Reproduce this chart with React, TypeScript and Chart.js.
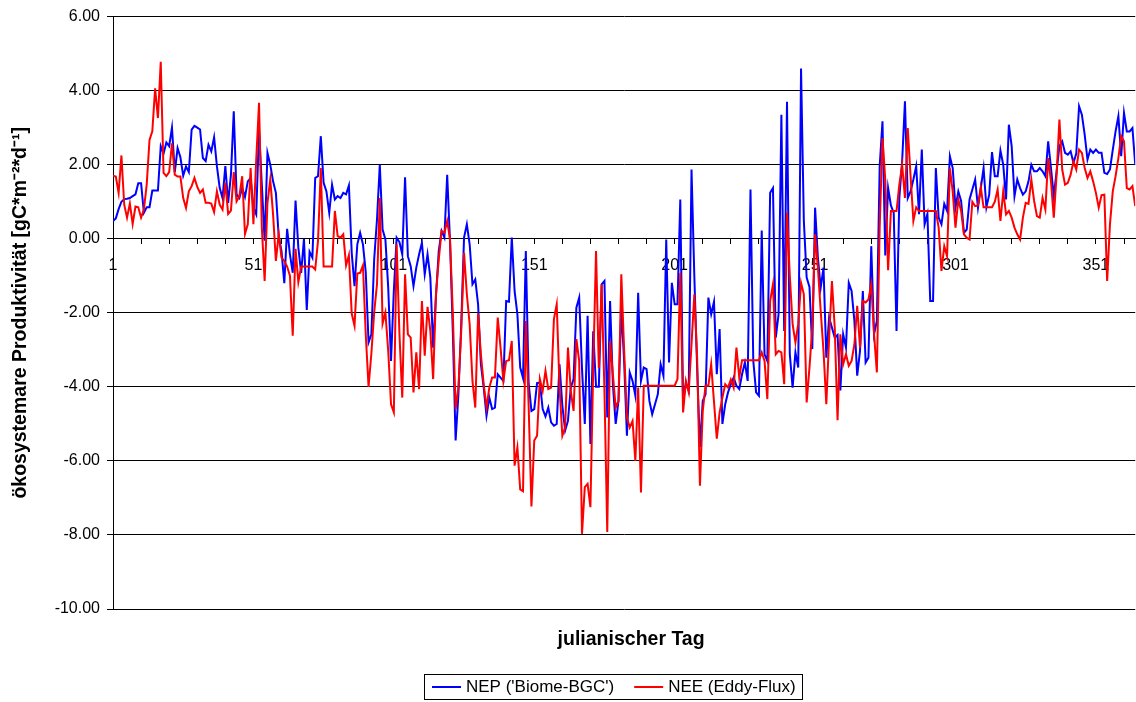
import React, { useEffect, useRef } from 'react';
import { Chart, registerables } from 'chart.js';

Chart.register(...registerables);

// ---------- data ----------
const days: number[] = Array.from({ length: 365 }, (_, i) => i + 1);
const xTickDays = [1, 11, 21, 31, 41, 51, 61, 71, 81, 91, 101, 111, 121, 131, 141, 151, 161, 171, 181, 191, 201, 211, 221, 231, 241, 251, 261, 271, 281, 291, 301, 311, 321, 331, 341, 351, 361];
const xLabelDays = [1, 51, 101, 151, 201, 251, 301, 351];
const yTickValues = [-10, -8, -6, -4, -2, 0, 2, 4, 6];
const seriesNames = ["NEP ('Biome-BGC')", 'NEE (Eddy-Flux)'];
const seriesColors = ['#0000FF', '#FF0000'];
const xTitle = 'julianischer Tag';
const yTitle = 'ökosystemare Produktivität [gC*m⁻²*d⁻¹]';

const nep: number[] = [
  0.48, 0.55, 0.8, 1.0, 1.07, 1.08, 1.1, 1.15, 1.2, 1.5,
  1.5, 0.7, 0.85, 0.85, 1.3, 1.3, 1.3, 2.5, 2.3, 2.6,
  2.5, 3.0, 1.8, 2.45, 2.2, 1.7, 1.95, 1.8, 2.95, 3.05,
  3.0, 2.95, 2.18, 2.1, 2.54, 2.36, 2.74, 1.96, 1.37, 1.1,
  1.96, 0.97, 1.73, 3.44, 1.2, 1.1, 1.37, 1.13, 1.55, 1.64,
  0.84, 0.66, 2.95, 1.46, -0.05, 2.32, 2.0, 1.55, 1.24, 0.07,
  -0.33, -1.2, 0.27, -0.42, -0.92, 1.03, -0.24, -0.92, 0.0, -1.92,
  -0.35, -0.51, 1.64, 1.69, 2.77, 1.51, 1.28, 0.7, 1.46, 1.06,
  1.15, 1.1, 1.24, 1.2, 1.44, -0.38, -1.28, -0.15, 0.16, -0.15,
  -0.9, -2.8, -2.58, -0.56, 0.52, 2.0, 0.25, -0.02, -1.32, -3.3,
  -1.41, 0.03, -0.09, -0.42, 1.66, -0.47, -0.74, -1.28, -0.78, -0.42,
  -0.11, -0.96, -0.42, -1.05, -2.94, -1.55, -0.33, 0.21, 0.03, 1.73,
  -0.06, -2.5, -5.45, -4.2, -2.3, 0.03, 0.39, -0.15, -1.23, -1.1,
  -1.77, -3.39, -4.02, -4.78, -4.29, -4.6, -4.56, -3.66, -3.75, -3.84,
  -1.68, -1.7, 0.03, -1.41, -2.04, -3.48, -3.76, -0.33, -3.9, -4.65,
  -4.6, -3.9, -3.88, -4.6, -4.8, -4.56, -4.96, -5.05, -5.0, -3.39,
  -4.5, -5.18, -4.92, -4.02, -3.79, -1.86, -1.59, -3.5, -5.0, -2.08,
  -5.54, -2.5, -4.0, -4.0, -1.23, -1.14, -4.83, -1.68, -3.93, -5.0,
  -4.38, -1.86, -3.3, -5.32, -3.61, -3.84, -4.24, -1.46, -3.84, -3.48,
  -3.52, -4.38, -4.74, -4.47, -4.2, -3.39, -3.7, -0.02, -3.34, -1.19,
  -1.77, -1.77, 1.06, -4.38, -3.9, -4.1, 1.87, -1.0, -3.5, -5.63,
  -4.38, -4.2, -1.59, -2.04, -1.7, -3.66, -2.44, -5.0, -4.47, -4.15,
  -3.93, -3.75, -3.97, -4.06, -3.66, -3.34, -3.84, 1.33, -3.3, -4.15,
  -4.24, 0.22, -3.12, -3.3, 1.24, 1.37, -2.67, -2.04, 3.35, -2.49,
  3.7, -3.12, -4.02, -3.07, -3.48, 4.6, 0.48, -1.05, -1.3, -2.98,
  0.84, -0.51, -1.32, -0.78, -3.21, -2.13, -2.4, -2.67, -2.6, -4.1,
  -2.58, -2.94, -1.19, -1.41, -2.22, -3.7, -3.03, -1.41, -3.34, -3.21,
  -0.2, -2.58, -2.22, 1.96, 3.17, -0.45, 1.37, 0.9, 0.7, -2.49,
  1.1, 2.09, 3.71, 1.1, 1.28, 1.6, 1.96, 0.66, 2.41, 0.39,
  0.67, -1.68, -1.68, 1.91, 0.57, 0.39, 0.94, 0.75, 2.23, 1.91,
  0.84, 1.28, 1.02, 0.16, 0.25, 1.06, 1.33, 1.6, 0.84, 1.37,
  1.91, 0.85, 1.19, 2.34, 1.69, 1.69, 2.38, 2.0, 1.06, 3.08,
  2.5, 1.15, 1.6, 1.37, 1.19, 1.28, 1.55, 2.0, 1.82, 1.82,
  1.91, 1.82, 1.69, 2.63, 1.91, 1.15, 1.82, 2.5, 2.63, 2.32,
  2.27, 2.36, 2.05, 2.3, 3.58, 3.35, 2.81, 2.14, 2.41, 2.32,
  2.41, 2.32, 2.32, 1.78, 1.75, 1.87, 2.4, 2.9, 3.31, 2.23,
  3.4, 2.9, 2.9, 2.99, 2.0,
];

const nee: number[] = [
  1.7, 1.68, 1.24, 2.25, 0.92, 0.57, 0.95, 0.4, 0.87, 0.85,
  0.57, 0.79, 1.46, 2.67, 2.9, 4.06, 3.26, 4.78, 1.78, 1.69,
  1.8, 2.58, 1.73, 1.68, 1.68, 1.1, 0.83, 1.28, 1.42, 1.64,
  1.4, 1.24, 1.33, 0.97, 0.97, 0.95, 0.72, 1.28, 0.92, 0.79,
  1.51, 0.67, 0.76, 1.8, 1.01, 1.15, 1.69, 0.13, 0.39, 1.91,
  0.39, 2.14, 3.67, 0.3, -1.14, 0.97, 1.6, 0.66, -0.6, 0.13,
  -0.51, -0.6, -0.75, -1.0, -2.62, -0.27, -1.17, -0.75, -0.75, -0.75,
  -0.75, -0.75, -0.83, -0.06, 1.91, -0.75, -0.75, -0.75, -0.75, 0.75,
  0.07, 0.03, 0.12, -0.72, -0.44, -2.02, -2.35, -0.94, -0.92, -0.72,
  -2.58, -4.0, -3.1, -1.99, -1.23, 1.1, -2.29, -1.99, -3.03, -4.47,
  -4.69, -0.15, -2.58, -4.29, -0.96, -2.58, -2.67, -4.15, -3.07, -4.06,
  -1.68, -3.16, -1.84, -2.49, -3.79, -1.5, -0.56, 0.21, 0.16, 0.48,
  0.0, -2.0, -4.6, -4.0, -2.5, -0.38, -1.5, -2.31, -3.84, -4.56,
  -2.02, -3.12, -3.93, -4.56, -4.02, -3.75, -3.75, -2.13, -2.94, -3.84,
  -3.3, -3.28, -2.76, -6.13, -5.64, -6.77, -6.82, -2.22, -4.5, -7.23,
  -5.45, -5.32, -3.79, -4.11, -3.57, -4.06, -4.02, -2.17, -1.77, -4.0,
  -5.32, -5.09, -2.94, -4.11, -4.65, -2.71, -3.3, -7.97, -6.71, -6.62,
  -7.25, -3.5, -0.33, -3.5, -1.23, -4.11, -7.92, -2.76, -3.66, -4.56,
  -4.38, -0.96, -3.0, -4.83, -5.1, -4.92, -6.0, -4.02, -6.85, -3.97,
  -3.97, -3.97, -3.97, -3.97, -3.97, -3.97, -3.97, -3.97, -3.97, -3.97,
  -3.97, -3.79, -0.92, -4.69, -3.84, -4.15, -2.85, -1.5, -3.21, -6.67,
  -4.65, -3.97, -3.97, -3.39, -4.4, -5.4, -4.7, -4.29, -3.93, -4.02,
  -3.8, -4.02, -2.94, -3.75, -3.28, -3.28, -3.28, -3.28, -3.28, -3.28,
  -3.28, -3.07, -3.3, -4.33, -1.68, -1.23, -3.12, -3.03, -3.07, -3.93,
  0.7, -1.0, -2.31, -2.8, -2.3, -1.19, -1.5, -4.42, -3.48, -2.4,
  0.12, -0.78, -1.95, -3.03, -4.47, -2.67, -1.14, -2.4, -4.9, -2.58,
  -3.39, -3.12, -3.43, -3.3, -2.85, -1.81, -2.94, -1.68, -1.72, -1.64,
  -1.23, -2.58, -3.61, 0.3, 2.72, 1.6, -0.85, 0.75, 0.75, 0.75,
  1.46, 2.0, 1.1, 2.99, 1.7, 0.48, 0.85, 0.75, 0.75, 0.75,
  0.75, 0.75, 0.75, 0.75, 0.3, -0.87, -0.2, -0.47, 1.9, 1.28,
  0.3, 1.06, 0.75, 0.12, 0.03, -0.02, 1.0, 0.88, 0.9, 1.39,
  0.85, 0.85, 0.85, 0.85, 1.0, 1.33, 0.48, 1.28, 0.66, 0.75,
  0.57, 0.3, 0.12, -0.02, 0.57, 0.97, 0.94, 1.6, 1.02, 0.61,
  0.57, 1.1, 0.79, 2.18, 1.55, 0.57, 1.73, 3.22, 1.87, 1.46,
  1.51, 1.73, 2.09, 1.87, 2.41, 2.32, 1.91, 1.64, 1.82, 1.55,
  1.24, 0.84, 1.18, 1.19, -1.14, 0.39, 1.28, 1.69, 2.18, 2.77,
  2.63, 1.37, 1.33, 1.42, 0.88,
];

// ---------- styling ----------
const FONT_FAMILY = '"Liberation Sans", Arial, Helvetica, sans-serif';
const TICK_SIZE = 16;
const TITLE_SIZE = 19.5;
const LEGEND_SIZE = 17;

const legendPlugin = {
  id: 'boxedLegend',
  afterDraw(chart: any) {
    const ctx = chart.ctx as CanvasRenderingContext2D;
    const area = chart.chartArea;
    ctx.save();

    // x axis title (below the plot, centred slightly right of the plot centre as in the original)
    ctx.font = `bold ${TITLE_SIZE}px ${FONT_FAMILY}`;
    ctx.fillStyle = '#000';
    ctx.textAlign = 'center';
    ctx.textBaseline = 'middle';
    ctx.fillText(xTitle, (area.left + area.right) / 2 + 7, area.bottom + 31);

    // boxed legend
    ctx.font = `${LEGEND_SIZE}px ${FONT_FAMILY}`;
    const items = chart.data.datasets.map((ds: any) => ({ text: ds.label, color: ds.borderColor, width: ds.borderWidth }));
    const lineLen = 29;
    const gapText = 5;
    const gapItem = 20;
    const padL = 8;
    const padR = 6;
    const widths = items.map((it: any) => ctx.measureText(it.text).width);
    let total = padL + padR + gapItem * (items.length - 1);
    items.forEach((_: any, i: number) => { total += lineLen + gapText + widths[i]; });
    const cx = (area.left + area.right) / 2 - 11;
    const top = 674;
    const h = 25;
    const left = Math.round(cx - total / 2);
    ctx.fillStyle = '#fff';
    ctx.fillRect(left, top, Math.round(total), h);
    ctx.strokeStyle = '#000';
    ctx.lineWidth = 1;
    ctx.strokeRect(left + 0.5, top + 0.5, Math.round(total), h);
    const cy = top + h / 2 + 0.5;
    let x = left + padL;
    items.forEach((it: any, i: number) => {
      ctx.strokeStyle = it.color;
      ctx.lineWidth = it.width;
      ctx.beginPath();
      ctx.moveTo(x, Math.round(cy));
      ctx.lineTo(x + lineLen, Math.round(cy));
      ctx.stroke();
      x += lineLen + gapText;
      ctx.fillStyle = '#000';
      ctx.textBaseline = 'middle';
      ctx.textAlign = 'left';
      ctx.fillText(it.text, x, cy);
      x += widths[i] + gapItem;
    });
    ctx.restore();
  },
};

export default function App() {
  const canvasRef = useRef<HTMLCanvasElement | null>(null);

  useEffect(() => {
    document.body.style.margin = '0';
    const canvas = canvasRef.current;
    if (!canvas) return;
    const chart = new Chart(canvas, {
      type: 'line',
      data: {
        datasets: [
          {
            label: seriesNames[0],
            data: days.map((d, i) => ({ x: d, y: nep[i] })),
            borderColor: seriesColors[0],
            backgroundColor: seriesColors[0],
            borderWidth: 2,
            pointRadius: 0,
            tension: 0,
            order: 1,
          },
          {
            label: seriesNames[1],
            data: days.map((d, i) => ({ x: d, y: nee[i] })),
            borderColor: seriesColors[1],
            backgroundColor: seriesColors[1],
            borderWidth: 2,
            pointRadius: 0,
            tension: 0,
            order: 0,
          },
        ],
      },
      options: {
        responsive: false,
        animation: false,
        devicePixelRatio: 1,
        layout: { padding: { top: 15, right: 0, left: 0, bottom: 93 } },
        plugins: {
          legend: { display: false },
          tooltip: { enabled: false },
          title: { display: false },
        },
        scales: {
          x: {
            type: 'linear',
            position: { y: 0 },
            min: 1,
            max: 365,
            afterBuildTicks: (s: any) => {
              s.ticks = xTickDays.map((v) => ({ value: v }));
            },
            ticks: {
              autoSkip: false,
              maxRotation: 0,
              color: '#000',
              padding: 12,
              font: { family: FONT_FAMILY, size: TICK_SIZE },
              callback: (v: any) => (xLabelDays.includes(Number(v)) ? String(v) : ''),
            },
            grid: { drawOnChartArea: false, drawTicks: true, tickLength: 5, color: '#000' },
            border: { display: true, color: '#000', width: 1 },
          },
          y: {
            type: 'linear',
            min: -10,
            max: 6,
            afterBuildTicks: (s: any) => {
              s.ticks = yTickValues.map((v) => ({ value: v }));
            },
            afterFit: (s: any) => {
              s.width = 113;
            },
            ticks: {
              color: '#000',
              padding: 7,
              font: { family: FONT_FAMILY, size: TICK_SIZE },
              callback: (v: any) => Number(v).toFixed(2),
            },
            grid: { color: '#000', lineWidth: 1, tickLength: 6 },
            border: { display: true, color: '#000', width: 1 },
            title: {
              display: true,
              text: yTitle,
              color: '#000',
              font: { family: FONT_FAMILY, size: TITLE_SIZE, weight: 'bold', lineHeight: 1.2 },
              padding: { top: 9.3, bottom: 0 },
            },
          },
        },
      } as any,
      plugins: [legendPlugin],
    });
    return () => chart.destroy();
  }, []);

  return (
    <div style={{ position: 'absolute', left: 0, top: 0, width: 1136, height: 702, background: '#fff' }}>
      <canvas ref={canvasRef} width={1136} height={702} style={{ display: 'block' }} />
    </div>
  );
}
